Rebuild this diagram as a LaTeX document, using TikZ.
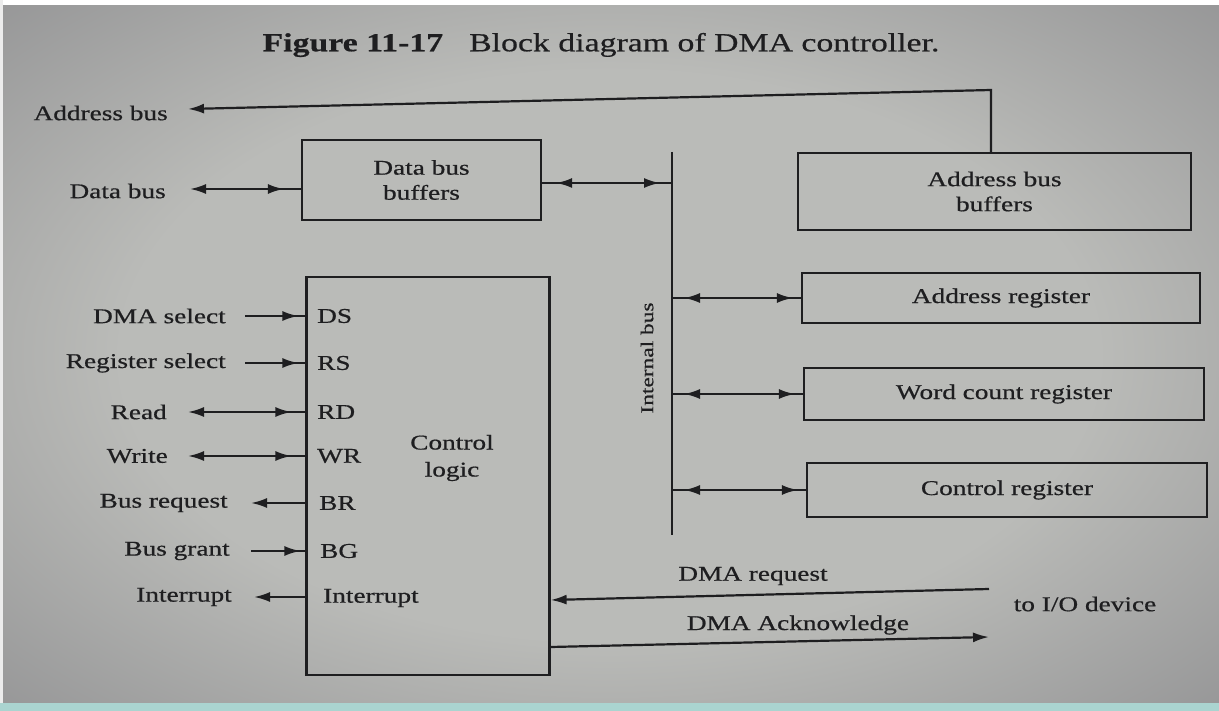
\documentclass[tikz,border=0pt]{standalone}
\usepackage{fontspec}
\setmainfont[FakeStretch=1.3,FakeBold=0.6]{Liberation Serif}
\usetikzlibrary{arrows.meta,decorations.markings}
\definecolor{ink}{RGB}{30,30,32}
\definecolor{bgin}{RGB}{186,187,184}
\definecolor{bgmid}{RGB}{140,140,142}
\definecolor{bgout}{RGB}{78,76,80}
\definecolor{stripteal}{RGB}{170,212,208}
\pgfdeclareradialshading{vign}{\pgfpoint{0bp}{0bp}}{color(0bp)=(bgin); color(20bp)=(bgin); color(40bp)=(bgmid); color(50bp)=(bgout)}
\tikzset{
  >={Latex[length=16pt,width=10pt]},
  lbl/.style={font=\fontsize{21}{25}\selectfont, text=ink, inner sep=0pt},
  blk/.style={draw=ink, line width=2.2pt, font=\fontsize{21}{25}\selectfont, text=ink, align=center, inner sep=0pt},
  wire/.style={draw=ink, line width=2.2pt},
  arE/.style={postaction={decorate,decoration={markings,mark=at position #1 with {\arrow{>}}}}},
  arS/.style={postaction={decorate,decoration={markings,mark=at position #1 with {\arrowreversed{>}}}}}
}
\begin{document}
\begin{tikzpicture}[x=1pt,y=-1pt]
\useasboundingbox (0,0) rectangle (1219,711);
% photo background
\shade[shading=vign] (0,0) rectangle (1219,711);
\fill[white] (0,0) rectangle (1219,5);
\fill[white!85!gray] (0,0) rectangle (3,711);
\fill[stripteal] (0,703) rectangle (1219,711);

% title
\node[lbl] (title) at (601,45) {\fontsize{26}{30}\selectfont\textbf{Figure 11-17}\quad Block diagram of DMA controller.};

% blocks
\node[blk, minimum width=239pt, minimum height=80pt] (dbb) at (421.5,180) {Data bus\\buffers};
\node[blk, minimum width=393pt, minimum height=77pt] (abb) at (994.5,191.5) {Address bus\\buffers};
\node[blk, minimum width=398pt, minimum height=50pt] (areg) at (1001,298) {Address register};
\node[blk, minimum width=400pt, minimum height=52pt] (wreg) at (1004,394) {Word count register};
\node[blk, minimum width=400pt, minimum height=54pt] (creg) at (1007,490) {Control register};
\node[blk, minimum width=243pt, minimum height=398pt] (ctl) at (428,476) {};
\node[lbl, align=center, font=\fontsize{21}{27}\selectfont] (ctltxt) at (452,458) {Control\\logic};

% internal bus
\coordinate (ibtop) at (672,152);
\coordinate (ibbot) at (672,535);
\draw[wire] (ibtop) -- (ibbot);
\node[lbl, rotate=90, font=\fontsize{18}{20}\selectfont] (iblbl) at (647,358) {Internal bus};

% system side labels
\node[lbl, anchor=east] (ablbl) at (168,113) {Address bus};
\node[lbl, anchor=east] (dblbl) at (166,191) {Data bus};
\coordinate (abcorner) at (991,90);
\draw[wire, ->] (abb.north -| abcorner) -- (abcorner) -- ([xshift=20pt,yshift=4pt]ablbl.east);
\draw[wire, <-, arE=-17pt] ([xshift=24pt,yshift=2pt]dblbl.east) -- ([yshift=2pt]dblbl.east -| dbb.west);

% data bus buffers to internal bus and registers
\draw[wire, arS=14pt, arE=-12pt] ([yshift=-3pt]dbb.east) -- ([yshift=-3pt]dbb.east -| ibtop);
\draw[wire, arS=12pt, arE=-8pt] (areg.west -| ibtop) -- (areg.west);
\draw[wire, arS=12pt, arE=-8pt] (wreg.west -| ibtop) -- (wreg.west);
\draw[wire, arS=12pt, arE=-8pt] (creg.west -| ibtop) -- (creg.west);

% control signals (outside labels)
\node[lbl, anchor=east] (dsl) at (226,316) {DMA select};
\node[lbl, anchor=east] (rsl) at (226,363) {Register select};
\node[lbl, anchor=east] (rdl) at (167,412) {Read};
\node[lbl, anchor=east] (wrl) at (168,456) {Write};
\node[lbl, anchor=east] (brl) at (228,503) {Bus request};
\node[lbl, anchor=east] (bgl) at (230,551) {Bus grant};
\node[lbl, anchor=east] (irl) at (232,597) {Interrupt};

% inside labels
\node[lbl, anchor=west] (ds) at (317,316) {DS};
\node[lbl, anchor=west] (rs) at (317,363) {RS};
\node[lbl, anchor=west] (rd) at (317,412) {RD};
\node[lbl, anchor=west] (wr) at (317,456) {WR};
\node[lbl, anchor=west] (br) at (319,503) {BR};
\node[lbl, anchor=west] (bg) at (320,551) {BG};
\node[lbl, anchor=west] (ir) at (323,598) {Interrupt};

\draw[wire, arE=-7pt] ([xshift=19pt]dsl.east) -- (dsl.east -| ctl.west);
\draw[wire, arE=-7pt] ([xshift=19pt]rsl.east) -- (rsl.east -| ctl.west);
\draw[wire, <-, arE=-14pt] ([xshift=21pt]rdl.east) -- (rdl.east -| ctl.west);
\draw[wire, <-, arE=-14pt] ([xshift=20pt]wrl.east) -- (wrl.east -| ctl.west);
\draw[wire, <-] ([xshift=23pt]brl.east) -- (brl.east -| ctl.west);
\draw[wire, arE=-5pt] ([xshift=21pt]bgl.east) -- (bgl.east -| ctl.west);
\draw[wire, <-] ([xshift=22pt]irl.east) -- (irl.east -| ctl.west);

% I/O device side
\node[lbl] (reqlbl) at (753,576) {DMA request};
\node[lbl] (acklbl) at (798,625) {DMA Acknowledge};
\node[lbl] (iolbl) at (1085,604) {to I/O device};
\coordinate (reqstart) at (989,589);
\coordinate (ackend) at (989,637);
\draw[wire, ->] (reqstart) -- ([yshift=-124pt]ctl.east);
\draw[wire, ->] ([yshift=-171pt]ctl.east) -- (ackend);
\end{tikzpicture}
\end{document}
